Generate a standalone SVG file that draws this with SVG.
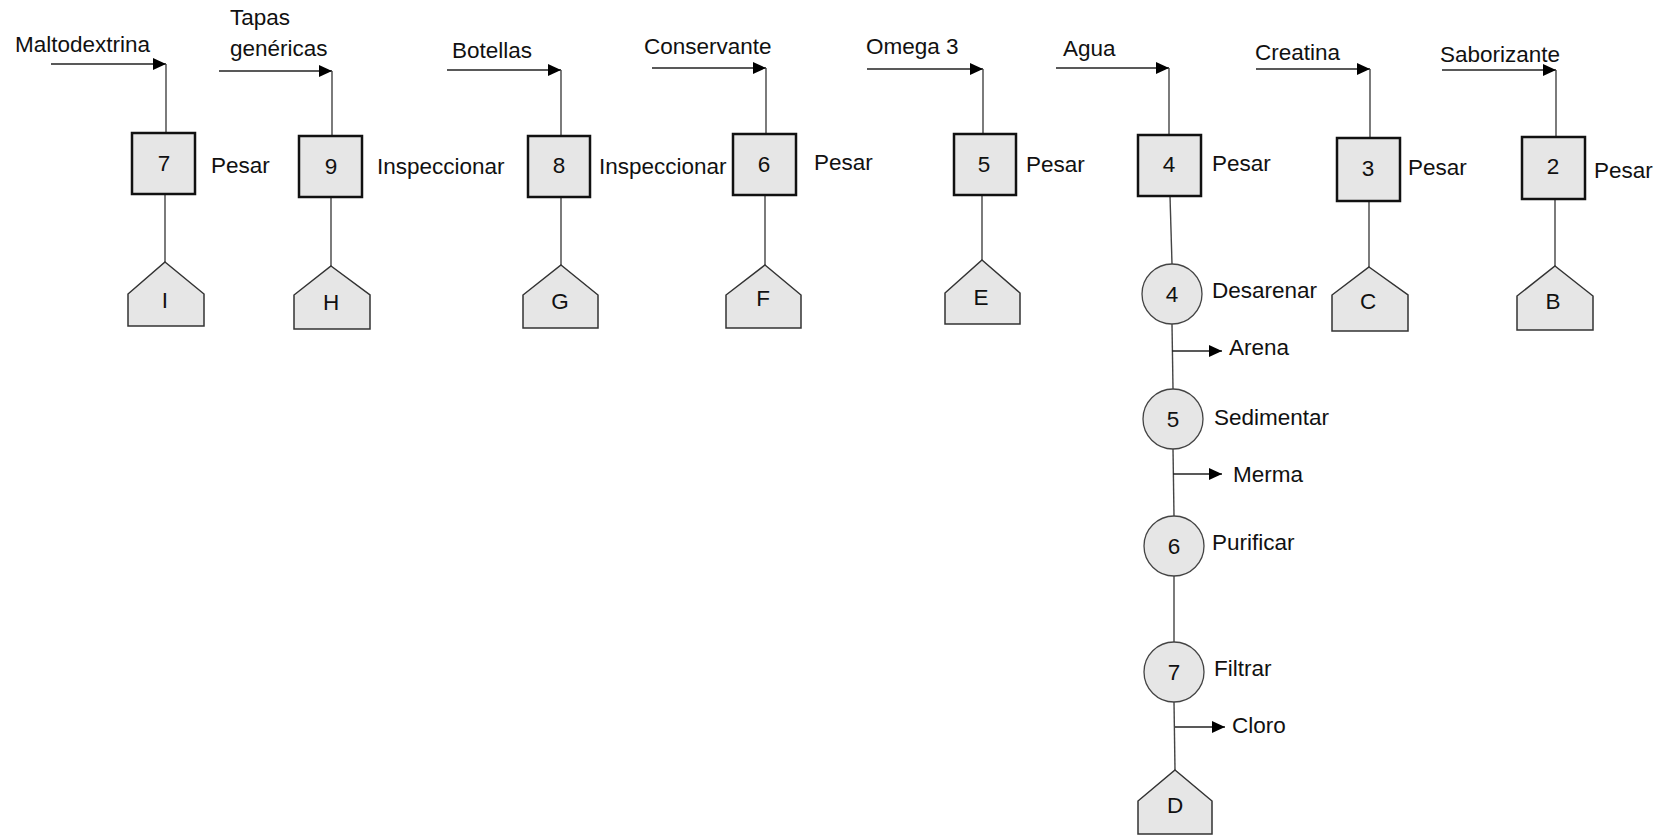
<svg xmlns="http://www.w3.org/2000/svg" width="1657" height="836" viewBox="0 0 1657 836">
<style>
text{font-family:"Liberation Sans",Arial,sans-serif;font-size:22.5px;fill:#111}
.c{text-anchor:middle}
.box{fill:#e6e6e6;stroke:#111;stroke-width:2.5}
.circ{fill:#e6e6e6;stroke:#444;stroke-width:1.3}
.pent{fill:#e6e6e6;stroke:#333;stroke-width:1.5}
.ln{stroke:#444;stroke-width:1.4;fill:none}
.ar{stroke:#222;stroke-width:1.4;fill:none;marker-end:url(#ah)}
</style>
<defs>
<marker id="ah" markerUnits="userSpaceOnUse" markerWidth="14" markerHeight="13" refX="13" refY="6" orient="auto">
<path d="M0,0 L13,6 L0,12 z" fill="#000"/>
</marker>
</defs>
<rect width="1657" height="836" fill="#fff"/>
<g id="connectors">
<line class="ar" x1="51" y1="64" x2="166" y2="64"/><line class="ln" x1="166" y1="64" x2="166" y2="133"/>
<line class="ar" x1="219" y1="71" x2="332" y2="71"/><line class="ln" x1="332" y1="71" x2="332" y2="136"/>
<line class="ar" x1="447" y1="70" x2="561" y2="70"/><line class="ln" x1="561" y1="70" x2="561" y2="136"/>
<line class="ar" x1="652" y1="68" x2="766" y2="68"/><line class="ln" x1="766" y1="68" x2="766" y2="134"/>
<line class="ar" x1="867" y1="69" x2="983" y2="69"/><line class="ln" x1="983" y1="69" x2="983" y2="134"/>
<line class="ar" x1="1056" y1="68" x2="1169" y2="68"/><line class="ln" x1="1169" y1="68" x2="1169" y2="135"/>
<line class="ar" x1="1256" y1="69" x2="1370" y2="69"/><line class="ln" x1="1370" y1="69" x2="1370" y2="138"/>
<line class="ar" x1="1442" y1="70" x2="1556" y2="70"/><line class="ln" x1="1556" y1="70" x2="1556" y2="137"/>
<line class="ln" x1="165" y1="194" x2="165" y2="262"/>
<line class="ln" x1="331" y1="197" x2="331" y2="266"/>
<line class="ln" x1="561" y1="197" x2="561" y2="265"/>
<line class="ln" x1="765" y1="195" x2="765" y2="265"/>
<line class="ln" x1="982" y1="195" x2="982" y2="260"/>
<line class="ln" x1="1369" y1="201" x2="1369" y2="267"/>
<line class="ln" x1="1555" y1="199" x2="1555" y2="266"/>
<line class="ln" x1="1170" y1="196" x2="1172" y2="264"/>
<line class="ln" x1="1172" y1="324" x2="1173" y2="389"/>
<line class="ln" x1="1173" y1="449" x2="1174" y2="516"/>
<line class="ln" x1="1174" y1="576" x2="1174" y2="642"/>
<line class="ln" x1="1174" y1="702" x2="1175" y2="770"/>
<line class="ar" x1="1172" y1="351" x2="1222" y2="351"/>
<line class="ar" x1="1173" y1="474" x2="1222" y2="474"/>
<line class="ar" x1="1175" y1="727" x2="1225" y2="727"/>
</g>
<g id="labels-inputs">
<text x="15" y="52">Maltodextrina</text>
<text x="230" y="25">Tapas</text>
<text x="230" y="56">genéricas</text>
<text x="452" y="58">Botellas</text>
<text x="644" y="54">Conservante</text>
<text x="866" y="54">Omega 3</text>
<text x="1063" y="56">Agua</text>
<text x="1255" y="60">Creatina</text>
<text x="1440" y="62">Saborizante</text>
<text x="1229" y="355">Arena</text>
<text x="1233" y="482">Merma</text>
<text x="1232" y="733">Cloro</text>
</g>
<g id="box7"><rect class="box" x="132" y="133" width="63" height="61"/><text class="c" x="164" y="171">7</text><text x="211" y="173">Pesar</text></g>
<g id="box9"><rect class="box" x="299" y="136" width="63" height="61"/><text class="c" x="331" y="174">9</text><text x="377" y="174">Inspeccionar</text></g>
<g id="box8"><rect class="box" x="528" y="136" width="62" height="61"/><text class="c" x="559" y="173">8</text><text x="599" y="174">Inspeccionar</text></g>
<g id="box6"><rect class="box" x="733" y="134" width="63" height="61"/><text class="c" x="764" y="172">6</text><text x="814" y="170">Pesar</text></g>
<g id="box5"><rect class="box" x="954" y="134" width="62" height="61"/><text class="c" x="984" y="172">5</text><text x="1026" y="172">Pesar</text></g>
<g id="box4"><rect class="box" x="1138" y="135" width="63" height="61"/><text class="c" x="1169" y="172">4</text><text x="1212" y="171">Pesar</text></g>
<g id="box3"><rect class="box" x="1337" y="138" width="63" height="63"/><text class="c" x="1368" y="176">3</text><text x="1408" y="175">Pesar</text></g>
<g id="box2"><rect class="box" x="1522" y="137" width="63" height="62"/><text class="c" x="1553" y="174">2</text><text x="1594" y="178">Pesar</text></g>
<g id="circ4"><circle class="circ" cx="1172" cy="294" r="30"/><text class="c" x="1172" y="302">4</text><text x="1212" y="298">Desarenar</text></g>
<g id="circ5"><circle class="circ" cx="1173" cy="419" r="30"/><text class="c" x="1173" y="427">5</text><text x="1214" y="425">Sedimentar</text></g>
<g id="circ6"><circle class="circ" cx="1174" cy="546" r="30"/><text class="c" x="1174" y="554">6</text><text x="1212" y="550">Purificar</text></g>
<g id="circ7"><circle class="circ" cx="1174" cy="672" r="30"/><text class="c" x="1174" y="680">7</text><text x="1214" y="676">Filtrar</text></g>
<g id="storI"><path class="pent" d="M165,262 L204,294 L204,326 L128,326 L128,294 Z"/><text class="c" x="165" y="308">I</text></g>
<g id="storH"><path class="pent" d="M331,266 L370,295 L370,329 L294,329 L294,295 Z"/><text class="c" x="331" y="310">H</text></g>
<g id="storG"><path class="pent" d="M561,265 L598,295 L598,328 L523,328 L523,295 Z"/><text class="c" x="560" y="309">G</text></g>
<g id="storF"><path class="pent" d="M765,265 L801,295 L801,328 L726,328 L726,295 Z"/><text class="c" x="763" y="306">F</text></g>
<g id="storE"><path class="pent" d="M982,260 L1020,293 L1020,324 L945,324 L945,293 Z"/><text class="c" x="981" y="305">E</text></g>
<g id="storC"><path class="pent" d="M1369,267 L1408,295 L1408,331 L1332,331 L1332,295 Z"/><text class="c" x="1368" y="309">C</text></g>
<g id="storB"><path class="pent" d="M1555,266 L1593,296 L1593,330 L1517,330 L1517,296 Z"/><text class="c" x="1553" y="309">B</text></g>
<g id="storD"><path class="pent" d="M1175,770 L1212,801 L1212,834 L1138,834 L1138,801 Z"/><text class="c" x="1175" y="813">D</text></g>
</svg>
